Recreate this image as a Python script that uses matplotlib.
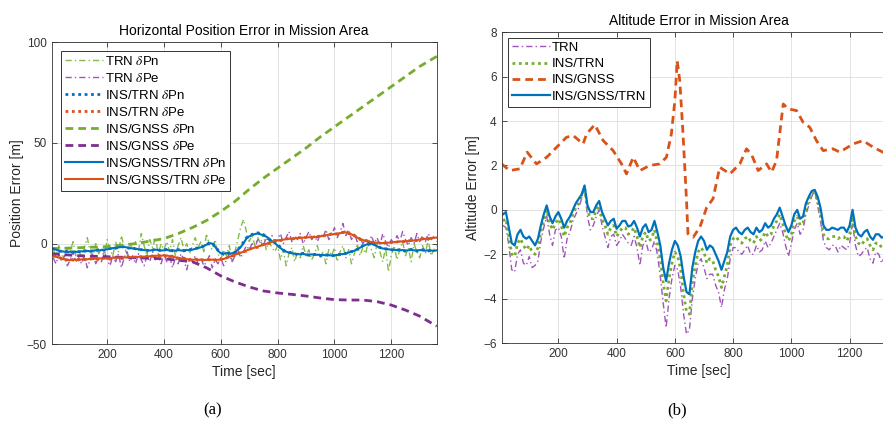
import matplotlib
matplotlib.use('Agg')
import matplotlib.pyplot as plt
import numpy as np

plt.rcParams['font.family'] = ['Liberation Sans', 'DejaVu Sans']
plt.rcParams['mathtext.fontset'] = 'stix'

# ---------------- (a) horizontal position error ----------------
t_fine = np.arange(10, 1361, 10)      # 10 s samples
t_dot = np.arange(10, 1360, 20)       # 20 s samples

trn_pn = [-3, -6, -1, -5, -8, -2, -4, 1, -6, -3,
          -7, -2, 3, -4, -6, 0, -5, -2, -7, 2,
          -3, -6, 1, -4, 4, -2, -5, 0, -3, 1,
          -4, 5, -1, -6, 2, -2, 3, -5, 0, -3,
          1, -4, 2, -6, -1, 3, -3, 0, -5, -1,
          3, -2, 1, -4, 5, -1, -3, 2, -5, -8,
          -3, -6, -1, -9, -4, 2, 8, 12, 6, 1,
          4, -1, 3, 0, 5, -3, 1, -2, -4, -1,
          -8, -3, -11, -5, -2, -9, -4, -7, -1, -6,
          -3, -8, -5, -1, -7, -4, -10, -3, -6, -2,
          -9, -4, -1, -7, -3, -10, -5, 0, -6, -2,
          -5, 2, -3, -7, 0, -4, -9, -2, -14, -6,
          -1, -8, -3, 1, -6, -2, -9, 0, -4, -7,
          -1, -5, 2, -6, -3, -1]
trn_pe = [-7, -10, -5, -9, -6, -11, -8, -4, -9, -7,
          -10, -6, -12, -8, -5, -10, -7, -9, -4, -8,
          -11, -6, -9, -5, -12, -7, -4, -9, -6, -10,
          -5, -8, -11, -6, -9, -4, -8, -7, -10, -5,
          -9, -6, -12, -7, -10, -5, -8, -13, -7, -9,
          -6, -10, -7, -11, -9, -6, -12, -8, -10, -7,
          -11, -8, -5, -9, -6, -3, -7, -4, -1, -3,
          0, -2, 2, 1, -1, 3, 0, 4, 1, 2,
          5, 0, 3, 6, 1, 4, 2, 5, 0, 3,
          6, 2, 4, 1, 5, 3, 7, 2, 4, 8,
          3, 6, 10, 4, 7, 2, 5, 1, 3, 0,
          2, -1, 4, 0, 3, -1, 5, 1, -2, 2,
          0, 4, 1, 6, 2, -1, 3, 0, 5, 1,
          4, 1, 5, 2, 3, 1]
instrn_pn = [-2.2, -3.8, -3.6, -4.3, -3.8, -4.1, -3.3, -3.8, -3.1, -3.3,
             -2.3, -2.3, -1.4, -2.2, -2.1, -3.1, -2.9, -3.7, -2.7, -3.6,
             -2.8, -3.6, -2.9, -3.6, -3, -2.3, -2.1, -0.2, 0.4, -3.2,
             -5.3, -4.5, -4.5, -1.3, 2.9, 4.6, 5.4, 4.5, 2.1, 0.7,
             -1.8, -4.3, -4.4, -5.5, -4.8, -5.8, -5.3, -6, -5.5, -6.2,
             -5.3, -5.5, -4.1, -3.8, -1.7, -0.3, 0.4, -1, -2.7, -2.5,
             -3.4, -3, -3.7, -2.8, -3.7, -3, -3.6, -3.3]
instrn_pe = [-6.1, -6.7, -8.2, -7.8, -8.5, -7.6, -8.2, -7.3, -7.9, -7.1,
             -7.7, -6.8, -7.4, -6.5, -7.1, -6.3, -6.9, -6, -6.5, -5.7,
             -6.3, -6.2, -7.4, -7.2, -8.2, -7.6, -8.3, -7.7, -8.3, -7.7,
             -7.9, -6.3, -5.8, -4.2, -3.7, -2.1, -1.8, -0.3, 0.1, 1.6,
             1.5, 2.5, 2.2, 3.1, 2.7, 3.5, 3, 3.9, 3.9, 4.9,
             4.7, 5.7, 5, 4.1, 2.1, 1.7, 0.5, 0.7, 0, 0.8,
             0.4, 1.3, 0.9, 1.7, 1.5, 2.5, 2.3, 3.3]
t_gnss_pn = [5, 100, 200, 300, 400, 450, 500, 550, 600, 650, 700, 750,
             800, 850, 900, 950, 1000, 1050, 1100, 1150, 1200, 1250, 1300, 1360]
gnss_pn = [-2.5, -2, -1.5, 0, 2.5, 5, 8, 11.5, 16, 21, 27, 32.5,
           37.5, 42.5, 47.5, 53, 58, 63, 68, 73, 78, 83, 88, 93]
t_gnss_pe = [5, 100, 200, 300, 400, 500, 550, 600, 650, 700, 750, 800,
             850, 900, 950, 1000, 1050, 1100, 1150, 1200, 1250, 1300, 1360]
gnss_pe = [-5, -6, -6.5, -7, -7.5, -9, -12, -16, -19, -21.5, -23.5, -24.5,
           -25.2, -26, -27, -27.8, -28, -28, -28.8, -30.5, -33, -36, -41]
full_pn = [-2.5, -3, -3.5, -3.8, -4, -4.2, -4, -4.3, -4.1, -4,
           -3.8, -3.9, -3.6, -3.8, -3.5, -3.3, -3.4, -3.2, -3, -2.8,
           -2.6, -2.2, -2, -1.8, -1.7, -1.6, -1.9, -2.2, -2.4, -2.6,
           -2.8, -3, -3.2, -3.3, -3.4, -3.2, -3, -3.2, -3.4, -3.3,
           -3.1, -3.4, -3.3, -3.5, -3.2, -3.4, -3.3, -3.1, -3.3, -3,
           -2.6, -2.2, -1.8, -1.2, -0.5, 0.3, 0, -1.5, -3.5, -4.8,
           -5, -4.7, -4.9, -4.8, -4.2, -3, -1.7, 0.2, 2.5, 3.6,
           4.2, 4.8, 5, 4.6, 4.1, 3.5, 2.5, 1.2, 0.3, -1,
           -2.2, -3.2, -4, -4.5, -4.8, -5, -5.2, -5.3, -5.1, -5.4,
           -5.5, -5.3, -5.6, -5.5, -5.7, -5.6, -5.8, -5.7, -5.9, -5.8,
           -5.6, -5.3, -5.2, -4.9, -4.4, -4, -3.5, -2.8, -2, -1.2,
           -0.6, -0.1, 0, -0.6, -1.3, -2, -2.4, -2.6, -2.8, -3,
           -3.1, -3.2, -3.3, -3.2, -3.4, -3.3, -3.1, -3.3, -3.4, -3.2,
           -3.3, -3.5, -3.3, -3.4, -3.6, -3.3]
full_pe = [-5.8, -6.5, -7, -7.5, -7.8, -8, -8.2, -7.9, -8.1, -7.8,
           -7.9, -7.6, -7.8, -7.5, -7.7, -7.4, -7.5, -7.3, -7.4, -7.2,
           -7.3, -7, -7.1, -6.9, -7, -6.8, -6.9, -6.6, -6.7, -6.5,
           -6.6, -6.4, -6.5, -6.2, -6.3, -6, -6.1, -5.9, -6, -5.8,
           -5.9, -6.2, -6.5, -6.8, -7, -7.3, -7.5, -7.7, -7.8, -8,
           -7.9, -8.1, -7.9, -8.2, -8, -8.1, -7.9, -8.2, -8, -7.9,
           -7.6, -7.1, -6.6, -6, -5.5, -5, -4.5, -4, -3.4, -2.9,
           -2.4, -1.9, -1.5, -1, -0.6, -0.1, 0.4, 0.9, 1.3, 1.6,
           1.8, 2, 2.2, 2.4, 2.5, 2.6, 2.8, 2.9, 3, 3.1,
           3.2, 3.2, 3.3, 3.3, 3.6, 3.9, 4.2, 4.4, 4.6, 4.8,
           5, 5.2, 5.4, 5.6, 5.3, 4.6, 3.8, 3, 2.4, 1.8,
           1.4, 1.1, 0.8, 0.6, 0.4, 0.3, 0.3, 0.4, 0.5, 0.6,
           0.7, 0.8, 1, 1.1, 1.2, 1.3, 1.4, 1.6, 1.8, 2,
           2.2, 2.4, 2.6, 2.8, 3, 3]

# ---------------- (b) altitude error ----------------
alt_trn = [-0.7, -0.8, -1.6, -2.7, -2.8, -2.0, -1.8, -2.4, -2.5, -2.1,
           -2.6, -2.5, -2.3, -1.4, -0.8, -0.3, -1.1, -1.6, -0.9, -0.8,
           -1.2, -2.2, -1.3, -1.0, -0.5, -0.2, 0.1, 0.5, 1.1, -0.3,
           -0.9, -0.7, -0.3, 0.0, -0.7, -1.2, -1.7, -1.2, -1.1, -1.6,
           -1.4, -1.1, -1.3, -1.5, -1.6, -1.2, -1.7, -2.5, -1.6, -1.4,
           -1.9, -1.8, -1.4, -2.0, -3.0, -4.2, -5.3, -4.0, -3.1, -2.5,
           -2.7, -3.5, -4.7, -5.6, -5.4, -4.0, -3.1, -2.4, -2.2, -2.6,
           -3.1, -2.9, -2.9, -3.4, -3.7, -4.4, -3.6, -3.1, -2.2, -1.7,
           -1.7, -1.9, -2.0, -1.8, -1.6, -2.0, -2.0, -1.6, -1.9, -1.8,
           -1.4, -1.7, -1.5, -1.2, -0.9, -0.6, -1.0, -1.6, -2.1, -1.5,
           -0.9, -0.6, -1.1, -0.9, -0.2, 0.2, 0.6, 0.9, 0.2, -0.5,
           -1.4, -1.7, -1.8, -1.6, -1.6, -1.9, -1.6, -1.7, -1.8, -1.5,
           -0.6, -1.6, -2.1, -2.0, -1.8, -1.7, -2.2, -2.4, -1.9, -2.0,
           -2.4, -2.1, -1.9, -2.3, -2.1, -1.9]
alt_instrn = [-0.5, -0.4, -1.2, -2.0, -2.1, -1.5, -1.3, -1.6, -1.8, -1.6,
              -1.9, -2.0, -1.7, -1.0, -0.5, 0.0, -0.6, -0.9, -0.6, -0.4,
              -0.7, -1.2, -0.8, -0.6, -0.2, 0.1, 0.3, 0.6, 1.0, 0.0,
              -0.4, -0.4, 0.0, 0.2, -0.4, -0.7, -1.1, -0.8, -0.7, -1.2,
              -1.0, -0.8, -0.8, -1.1, -1.0, -0.8, -1.2, -1.7, -1.2, -1.0,
              -1.4, -1.3, -0.9, -1.5, -2.2, -3.3, -4.1, -3.1, -2.4, -1.9,
              -2.1, -2.7, -3.8, -4.6, -4.7, -3.3, -2.5, -1.9, -1.7, -1.9,
              -2.4, -2.2, -2.3, -2.7, -3.0, -3.5, -3.0, -2.5, -1.6, -1.3,
              -1.2, -1.4, -1.5, -1.3, -1.2, -1.4, -1.5, -1.2, -1.4, -1.3,
              -1.0, -1.2, -1.1, -0.7, -0.5, -0.2, -0.6, -1.1, -1.4, -1.1,
              -0.5, -0.3, -0.7, -0.6, 0.1, 0.4, 0.7, 0.8, 0.4, -0.2,
              -1.1, -1.3, -1.3, -1.2, -1.2, -1.3, -1.2, -1.2, -1.4, -1.1,
              -0.3, -1.2, -1.5, -1.6, -1.4, -1.3, -1.6, -1.8, -1.5, -1.5,
              -1.7, -1.6, -1.5, -1.7, -1.6, -1.5]
alt_full = [-0.2, -0.1, -0.8, -1.5, -1.6, -1.1, -0.9, -1.2, -1.3, -1.2,
            -1.4, -1.6, -1.3, -0.7, -0.2, 0.2, -0.3, -0.6, -0.3, -0.1,
            -0.4, -0.8, -0.5, -0.3, 0.0, 0.3, 0.5, 0.7, 1.1, 0.2,
            -0.1, -0.1, 0.2, 0.4, -0.1, -0.4, -0.7, -0.5, -0.4, -0.85,
            -0.7, -0.5, -0.5, -0.75, -0.7, -0.5, -0.8, -1.2, -0.8, -0.65,
            -1.0, -0.9, -0.5, -1.0, -1.6, -2.6, -3.2, -2.4, -1.8, -1.4,
            -1.6, -2.1, -3.0, -3.7, -3.8, -2.6, -1.9, -1.4, -1.2, -1.4,
            -1.8, -1.6, -1.7, -2.0, -2.3, -2.7, -2.3, -1.9, -1.2, -0.9,
            -0.8, -1.0, -1.1, -0.9, -0.8, -1.0, -1.1, -0.8, -1.0, -0.9,
            -0.6, -0.8, -0.7, -0.4, -0.2, 0.1, -0.3, -0.7, -1.0, -0.7,
            -0.2, 0.0, -0.4, -0.3, 0.3, 0.6, 0.85, 0.9, 0.6, 0.1,
            -0.7, -0.9, -0.9, -0.8, -0.85, -0.9, -0.8, -0.8, -1.0, -0.7,
            0.0, -0.8, -1.1, -1.2, -1.0, -0.9, -1.2, -1.35, -1.1, -1.1,
            -1.25, -1.2, -1.1, -1.3, -1.2, -1.1]
t_gnss_alt = [5, 33, 68, 93, 125, 160, 194, 228, 251, 285,
              297, 325, 354, 388, 417, 434, 457, 480, 514, 548,
              571, 588, 600, 608, 617, 628, 640, 645, 663, 686,
              709, 731, 754, 789, 823, 846, 863, 886, 915, 932,
              949, 972, 989, 1018, 1040, 1063, 1086, 1109, 1143, 1166,
              1212, 1246, 1281, 1314, 1360]
alt_gnss = [2.07, 1.77, 1.85, 2.6, 2.07, 2.37, 2.82, 3.27, 3.35, 2.97,
            3.42, 3.84, 3.12, 2.67, 2.07, 1.62, 2.37, 1.77, 2.0, 2.07,
            2.37, 3.42, 4.92, 6.72, 5.8, 3.43, 0.42, -1.08, -1.23, -0.78,
            0.1, 0.5, 1.92, 1.62, 2.07, 2.75, 2.5, 1.77, 2.07, 1.7,
            2.22, 4.77, 4.55, 4.47, 3.95, 3.72, 3.12, 2.67, 2.75, 2.6,
            2.97, 3.12, 2.82, 2.6, 2.6]

# matlab default colours
blue = '#0072BD'
orange = '#D95319'
purple = '#7E2F8E'
green = '#77AC30'
lt_green = '#84BA4A'
lt_purple = '#9F55BA'

dashdot = (4.5, 2.2, 1, 2.2)
dash = (2.8, 1.8)
dot = (1, 1.3)


def matlab_axes(ax):
    ax.grid(True, color='#e3e3e3', lw=0.7)
    ax.set_axisbelow(True)
    ax.tick_params(direction='in', top=True, right=True, length=3.5,
                   labelsize=8.5, colors='#333333', width=0.6)
    for s in ax.spines.values():
        s.set_color('#333333')
        s.set_linewidth(0.6)
    ax.set_xticks([200, 400, 600, 800, 1000, 1200])
    ax.set_xlim(5, 1360)
    ax.set_xlabel('Time [sec]', fontsize=10, color='#262626', labelpad=3)


fig = plt.figure(figsize=(8.83, 4.23), dpi=100)

# (a)
ax1 = fig.add_axes([0.0586, 0.186, 0.436, 0.714])
ax1.plot(t_fine, trn_pn, color=lt_green, lw=1.0, dashes=dashdot, label=r'TRN $\delta$Pn')
ax1.plot(t_fine, trn_pe, color=lt_purple, lw=1.0, dashes=dashdot, label=r'TRN $\delta$Pe')
ax1.plot(t_dot, instrn_pn, color=blue, lw=2, dashes=dot, label=r'INS/TRN $\delta$Pn')
ax1.plot(t_dot, instrn_pe, color=orange, lw=2, dashes=dot, label=r'INS/TRN $\delta$Pe')
ax1.plot(t_gnss_pn, gnss_pn, color=green, lw=2, dashes=dash, label=r'INS/GNSS $\delta$Pn')
ax1.plot(t_gnss_pe, gnss_pe, color=purple, lw=2, dashes=dash, label=r'INS/GNSS $\delta$Pe')
ax1.plot(t_fine, full_pn, color=blue, lw=1.5, label=r'INS/GNSS/TRN $\delta$Pn')
ax1.plot(t_fine, full_pe, color=orange, lw=1.5, label=r'INS/GNSS/TRN $\delta$Pe')
matlab_axes(ax1)
ax1.set_ylim(-50, 100)
ax1.set_yticks([-50, 0, 50, 100])
ax1.set_ylabel('Position Error [m]', fontsize=10, color='#262626', labelpad=2)
ax1.set_title('Horizontal Position Error in Mission Area', fontsize=10, pad=5)
leg = ax1.legend(loc='upper left', bbox_to_anchor=(0.024, 0.971), borderaxespad=0,
                 fontsize=9.5, handlelength=2.9, handletextpad=0.1, labelspacing=0.3,
                 borderpad=0.3, fancybox=False, framealpha=1, edgecolor='#333333')
leg.get_frame().set_linewidth(0.7)

# (b)
ax2 = fig.add_axes([0.568, 0.189, 0.447, 0.7347])
ax2.plot(t_fine, alt_trn, color=lt_purple, lw=1.0, dashes=dashdot, label='TRN')
ax2.plot(t_fine, alt_instrn, color=green, lw=2, dashes=dot, label='INS/TRN')
ax2.plot(t_gnss_alt, alt_gnss, color=orange, lw=2, dashes=dash, label='INS/GNSS')
ax2.plot(t_fine, alt_full, color=blue, lw=1.6, label='INS/GNSS/TRN')
matlab_axes(ax2)
ax2.set_ylim(-6, 8)
ax2.set_yticks(np.arange(-6, 9, 2))
ax2.set_ylabel('Altitude Error [m]', fontsize=10, color='#262626', labelpad=2)
ax2.set_title('Altitude Error in Mission Area', fontsize=10, pad=5)
leg = ax2.legend(loc='upper left', bbox_to_anchor=(0.016, 0.982), borderaxespad=0,
                 fontsize=9.5, handlelength=2.9, handletextpad=0.1, labelspacing=0.3,
                 borderpad=0.3, fancybox=False, framealpha=1, edgecolor='#333333')
leg.get_frame().set_linewidth(0.7)

fig.text(0.241, 0.03, '(a)', fontsize=12, family='Liberation Serif', ha='center', va='center')
fig.text(0.767, 0.03, '(b)', fontsize=12, family='Liberation Serif', ha='center', va='center')

fig.savefig('out.png', dpi=100)
